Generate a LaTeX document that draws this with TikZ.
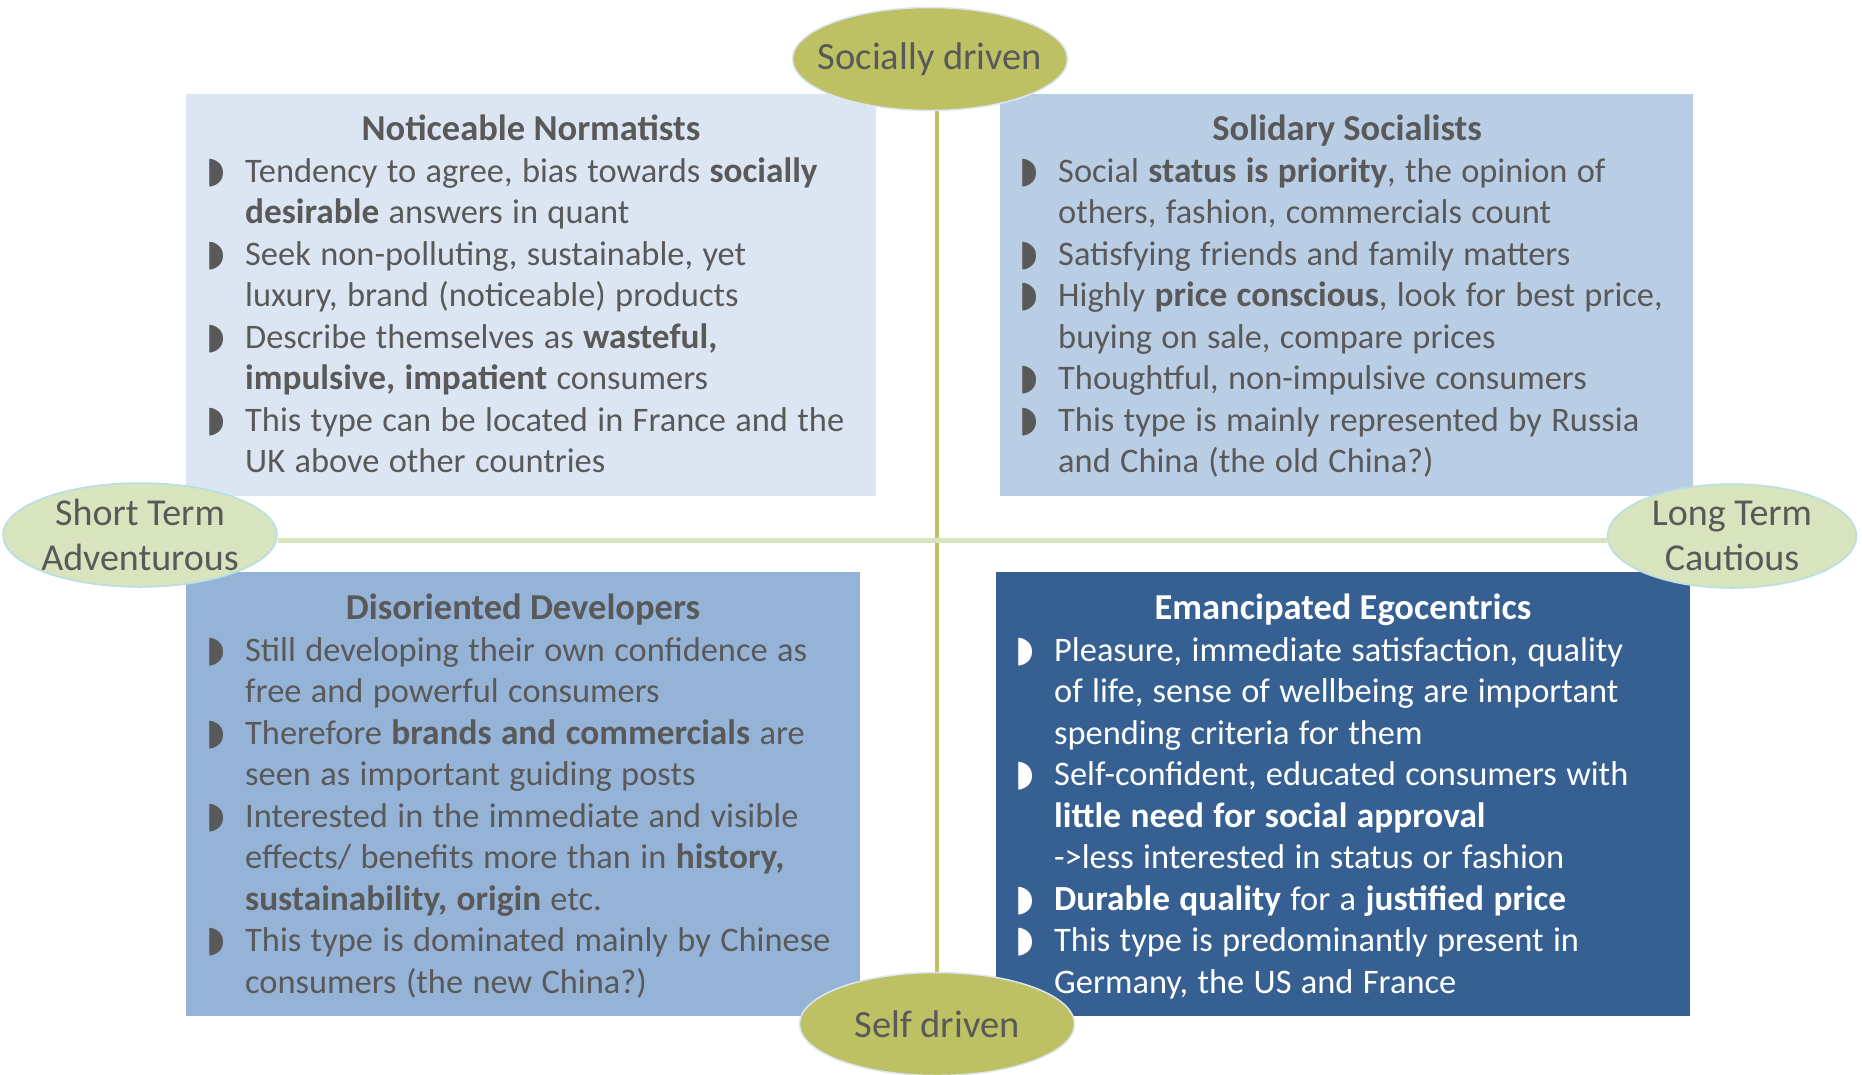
\documentclass[tikz,border=0pt]{standalone}
\usepackage{fontspec}
\setmainfont{Carlito}
\newfontfamily\bltfont{DejaVu Sans}
\usetikzlibrary{shapes.geometric}
\pgfdeclarelayer{background}
\pgfsetlayers{background,main}

\definecolor{txtgrey}{HTML}{595959}
\definecolor{boxA}{HTML}{DCE6F2}
\definecolor{boxB}{HTML}{B9CDE5}
\definecolor{boxC}{HTML}{95B3D7}
\definecolor{boxD}{HTML}{376092}
\definecolor{olive}{HTML}{BDC063}
\definecolor{paleolive}{HTML}{D7E4BD}
\definecolor{paleaqua}{HTML}{B7DDE8}

% bullet and continuation indent for the list lines
\newcommand\bl{\makebox[36pt][l]{\hspace*{-3pt}{\bltfont\fontsize{36}{36}\selectfont ◗}}}
\newcommand\ct{\hspace*{36pt}}
% emphasised words inside the lists
\newcommand\bb[1]{{\fontsize{35.3}{41.56}\selectfont\bfseries #1}}
% slightly tighter word spacing for the lists
\newskip\listspace
\listspace=9.4pt
\newcommand\tightspace{\spaceskip=\listspace}

\tikzset{
  quadtitle/.style={anchor=base, inner sep=0pt, font=\fontsize{36.5}{41.56}\selectfont\bfseries},
  quadlist/.style={anchor=base west, inner sep=0pt, align=left, text width=900pt,
                   font=\fontsize{34.4}{41.56}\selectfont},
  axisoval/.style={ellipse, inner xsep=-25pt, inner ysep=-20pt, text=txtgrey, line width=1.5pt,
                   font=\fontsize{38.5}{45}\selectfont, align=center},
}

\begin{document}
\begin{tikzpicture}[x=1pt,y=-1pt]
\useasboundingbox (0,0) rectangle (1862,1074);

% quadrant boxes
\fill[boxA] (186,94) rectangle (876,496);
\fill[boxB] (1000,94) rectangle (1693,496);
\fill[boxC] (186,572) rectangle (860,1016);
\fill[boxD] (996,572) rectangle (1690,1016);

% top-left quadrant
\node[quadtitle, text=txtgrey] (nnt) at (531,140) {Noticeable Normatists};
\node[quadlist, text=txtgrey] (nnl) at (209,182) {\tightspace
\bl Tendency to agree, bias towards \bb{socially}\\
\ct\bb{desirable} answers in quant\\
\bl Seek non-polluting, sustainable, yet\\
\ct luxury, brand (noticeable) products\\
\bl Describe themselves as \bb{wasteful,}\\
\ct\bb{impulsive, impatient} consumers\\
\bl This type can be located in France and the\\
\ct UK above other countries};

% top-right quadrant
\node[quadtitle, text=txtgrey] (sst) at (1347,140) {Solidary Socialists};
\node[quadlist, text=txtgrey] (ssl) at (1022,182) {\tightspace
\bl Social \bb{status is priority}, the opinion of\\
\ct others, fashion, commercials count\\
\bl Satisfying friends and family matters\\
\bl Highly \bb{price conscious}, look for best price,\\
\ct buying on sale, compare prices\\
\bl Thoughtful, non-impulsive consumers\\
\bl This type is mainly represented by Russia\\
\ct and China (the old China?)};

% bottom-left quadrant
\node[quadtitle, text=txtgrey] (ddt) at (523,619) {Disoriented Developers};
\node[quadlist, text=txtgrey] (ddl) at (209,661) {\tightspace
\bl Still developing their own confidence as\\
\ct free and powerful consumers\\
\bl Therefore \bb{brands and commercials} are\\
\ct seen as important guiding posts\\
\bl Interested in the immediate and visible\\
\ct effects/ benefits more than in \bb{history,}\\
\ct\bb{sustainability, origin} etc.\\
\bl This type is dominated mainly by Chinese\\
\ct consumers (the new China?)};

% bottom-right quadrant
\node[quadtitle, text=white] (eet) at (1343,619) {Emancipated Egocentrics};
\node[quadlist, text=white] (eel) at (1018,661) {\tightspace
\bl Pleasure, immediate satisfaction, quality\\
\ct of life, sense of wellbeing are important\\
\ct spending criteria for them\\
\bl Self-confident, educated consumers with\\
\ct\bb{little need for social approval}\\
\ct ->less interested in status or fashion\\
\bl\bb{Durable quality} for a \bb{justified price}\\
\bl This type is predominantly present in\\
\ct Germany, the US and France};

% axis ovals
\node[axisoval, fill=olive, draw=boxA, minimum width=275pt, minimum height=103pt] (soc) at (930,59) {Socially driven};
\node[axisoval, fill=olive, draw=boxA, minimum width=275pt, minimum height=103pt] (self) at (937,1024) {Self driven};
\node[axisoval, fill=paleolive, draw=paleaqua, minimum width=274pt, minimum height=104pt, font=\fontsize{38}{45}\selectfont] (st) at (140,535) {Short Term\\Adventurous};
\node[axisoval, fill=paleolive, draw=paleaqua, minimum width=249pt, minimum height=104pt, font=\fontsize{38}{45}\selectfont] (lt) at (1732,536) {Long Term\\Cautious};

% axes, kept under the ovals
\begin{pgfonlayer}{background}
\draw[olive, line width=3.5pt] (self.north |- soc.south) -- (self.north);
\draw[paleolive, line width=5pt] ([yshift=-5pt]st.east) -- ([yshift=-4pt]lt.west);
\end{pgfonlayer}
\end{tikzpicture}
\end{document}
